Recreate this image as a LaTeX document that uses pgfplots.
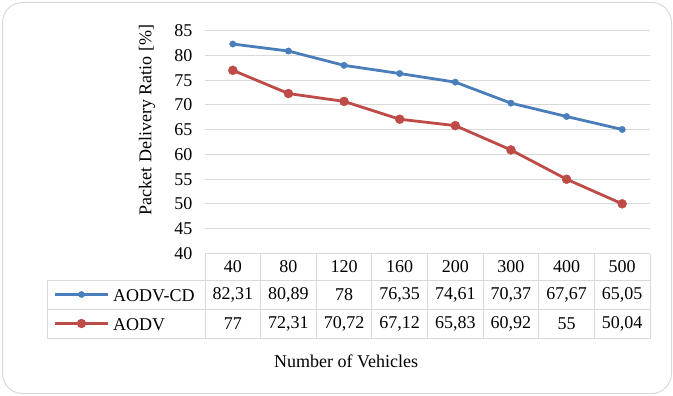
\documentclass[border=0pt]{standalone}
\usepackage{pgfplots}
\pgfplotsset{compat=1.18}
\usepackage{pgfplotstable}
\usepackage{fontspec}
\setmainfont{Liberation Serif}

\definecolor{cdblue}{HTML}{4A7EBB}
\definecolor{aodvred}{HTML}{BE4B48}
\definecolor{gridgray}{HTML}{D9D9D9}

% Packet delivery ratio per number of vehicles
\pgfplotstableread{
idx vehicles cd aodv
0 40  82.31 77
1 80  80.89 72.31
2 120 78    70.72
3 160 76.35 67.12
4 200 74.61 65.83
5 300 70.37 60.92
6 400 67.67 55
7 500 65.05 50.04
}\pdrtable

\newcommand{\cellfont}{\fontsize{18}{21}\selectfont}
\newcommand{\colw}{55.625}

\begin{document}
\begin{tikzpicture}[x=1pt,y=1pt, every node/.append style={font=\cellfont}]
% frame
\path[use as bounding box] (0,0) rectangle (673,-396);
\draw[gridgray, line width=1pt, rounded corners=20pt] (2.5,-2.5) rectangle (671.5,-393.5);

\begin{axis}[
  at={(205pt,-253.5pt)}, anchor=south west,
  scale only axis, width=445pt, height=222.8pt,
  xmin=-0.5, xmax=7.5, ymin=40, ymax=85,
  ytick={40,45,...,85}, xtick=\empty,
  axis line style={draw=none},
  ytick style={draw=none},
  ymajorgrids, grid style={gridgray, line width=1pt},
  /pgf/number format/assume math mode=true,
  tick label style={font=\cellfont},
  yticklabel style={xshift=-9pt},
  clip=false,
]
\addplot[cdblue, line width=2.8pt, mark=*, mark size=3.2pt, mark options={solid, fill=cdblue, draw=cdblue, line width=0.4pt}]
  table[x=idx, y=cd] {\pdrtable};
\addplot[aodvred, line width=2.8pt, mark=*, mark size=4.5pt, mark options={solid, fill=aodvred, draw=aodvred, line width=0.4pt}]
  table[x=idx, y=aodv] {\pdrtable};
\end{axis}

% y label
\node[rotate=90] at (147,-120) {Packet Delivery Ratio [\%]};

% data table grid
\begin{scope}[gridgray, line width=1pt]
  \draw (205,-253.5) -- (650,-253.5);
  \draw (47,-280.5) -- (650,-280.5);
  \draw (47,-309.5) -- (650,-309.5);
  \draw (47,-338.5) -- (650,-338.5);
  \foreach \k in {0,...,8} {
    \draw ({205+\colw*\k},-253.5) -- ({205+\colw*\k},-338.5);
  }
  \draw (47,-280.5) -- (47,-338.5);
\end{scope}

% table contents, read from the same data
\foreach \i in {0,...,7} {
  \pgfplotstablegetelem{\i}{vehicles}\of\pdrtable
  \node at ({205+\colw*(\i+0.5)},-267) {\pgfplotsretval};
  \pgfplotstablegetelem{\i}{cd}\of\pdrtable
  \node at ({205+\colw*(\i+0.5)},-295) {\pgfmathprintnumber[assume math mode=true,use comma,fixed,precision=2]{\pgfplotsretval}};
  \pgfplotstablegetelem{\i}{aodv}\of\pdrtable
  \node at ({205+\colw*(\i+0.5)},-324) {\pgfmathprintnumber[assume math mode=true,use comma,fixed,precision=2]{\pgfplotsretval}};
}

% legend keys
\draw[cdblue, line width=2.8pt] (55,-294.5) -- (108,-294.5);
\fill[cdblue] (81.5,-294.5) circle (3.4pt);
\node[anchor=base west, inner sep=0pt] at (113,-301) {AODV-CD};
\draw[aodvred, line width=2.8pt] (55,-323.5) -- (108,-323.5);
\fill[aodvred] (81.5,-323.5) circle (4.7pt);
\node[anchor=base west, inner sep=0pt] at (113,-330) {AODV};

% x label
\node at (346,-361) {Number of Vehicles};
\end{tikzpicture}
\end{document}
